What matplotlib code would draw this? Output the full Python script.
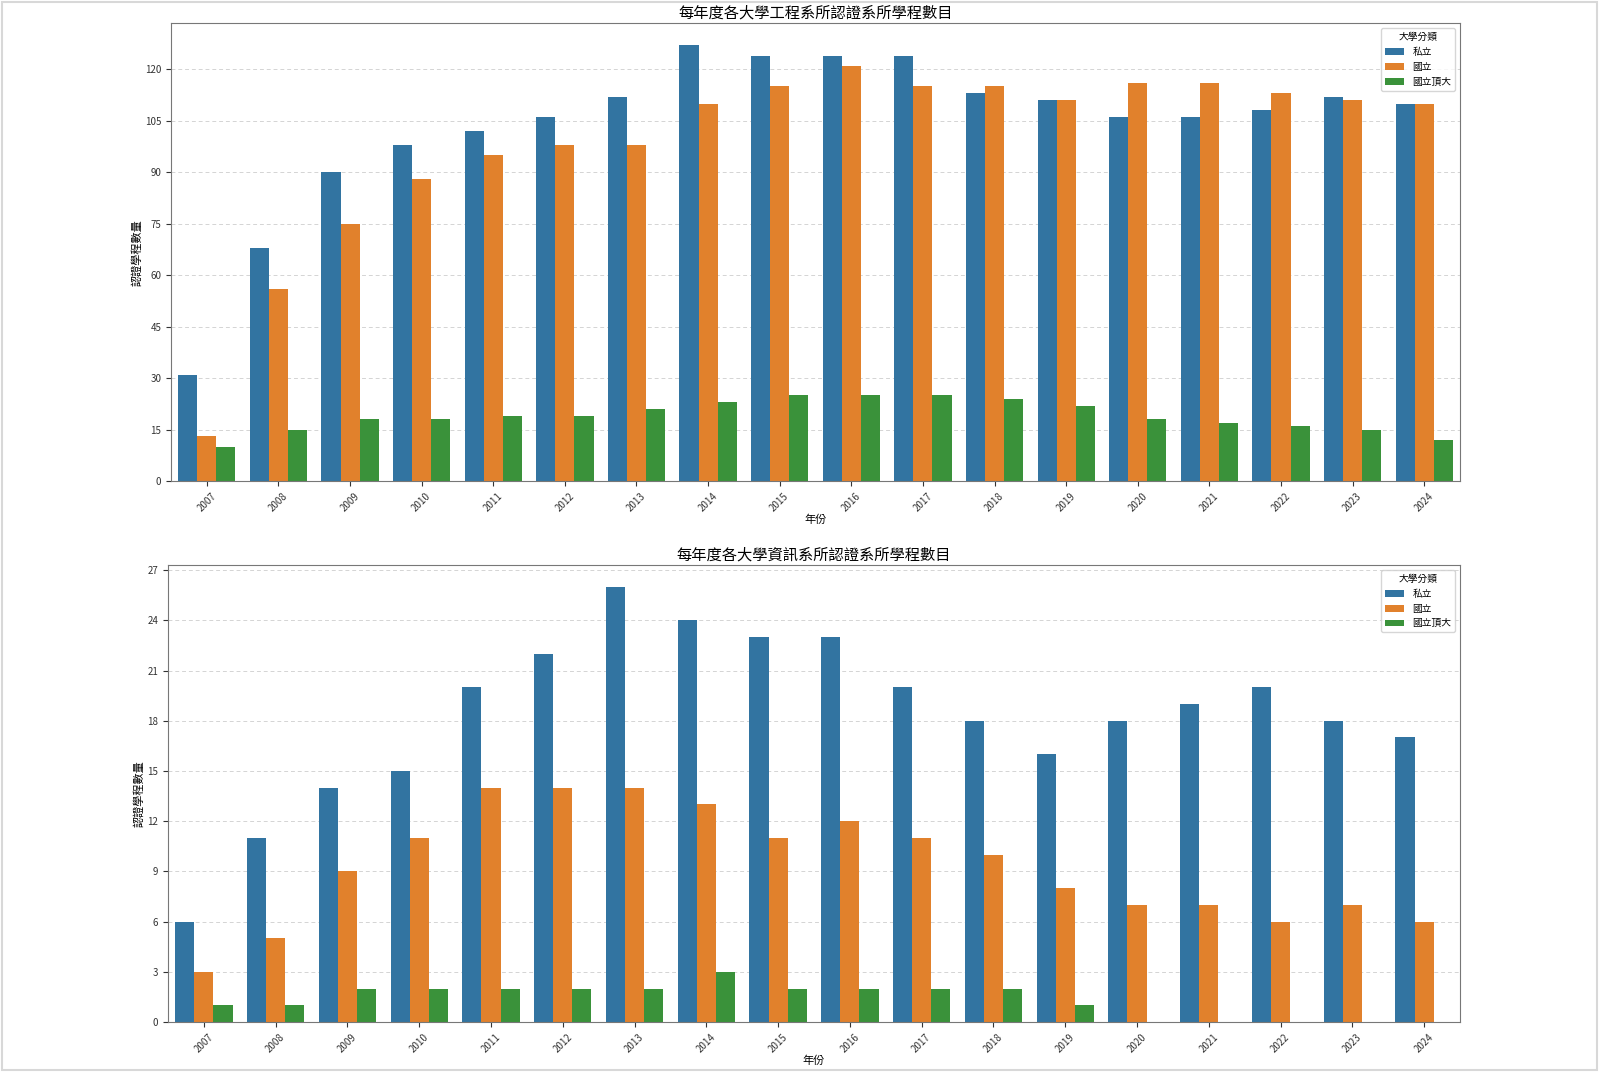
import pandas as pd
import matplotlib
matplotlib.use("Agg")
import matplotlib.pyplot as plt
from matplotlib.ticker import MultipleLocator
from matplotlib.patches import Rectangle
import seaborn as sns

plt.rcParams['font.family'] = ['Noto Sans CJK TC', 'DejaVu Sans']

years = list(range(2007, 2025))
groups = ["私立", "國立", "國立頂大"]

# 工程系所
eng_private = [31, 68, 90, 98, 102, 106, 112, 127, 124, 124, 124, 113, 111, 106, 106, 108, 112, 110]
eng_national = [13, 56, 75, 88, 95, 98, 98, 110, 115, 121, 115, 115, 111, 116, 116, 113, 111, 110]
eng_top = [10, 15, 18, 18, 19, 19, 21, 23, 25, 25, 25, 24, 22, 18, 17, 16, 15, 12]

# 資訊系所
cs_private = [6, 11, 14, 15, 20, 22, 26, 24, 23, 23, 20, 18, 16, 18, 19, 20, 18, 17]
cs_national = [3, 5, 9, 11, 14, 14, 14, 13, 11, 12, 11, 10, 8, 7, 7, 6, 7, 6]
cs_top = [1, 1, 2, 2, 2, 2, 2, 3, 2, 2, 2, 2, 1, 0, 0, 0, 0, 0]


def make_df(private, national, top):
    rows = []
    for i, y in enumerate(years):
        rows.append({"年份": y, "大學分類": groups[0], "數量": private[i]})
        rows.append({"年份": y, "大學分類": groups[1], "數量": national[i]})
        rows.append({"年份": y, "大學分類": groups[2], "數量": top[i]})
    return pd.DataFrame(rows)


def draw(ax, df, title, step):
    sns.barplot(data=df, x="年份", y="數量", hue="大學分類", hue_order=groups,
                ax=ax, errorbar=None)
    ax.set_title(title, fontsize=11, pad=4)
    ax.set_xlabel("年份", fontsize=8, labelpad=1)
    ax.set_ylabel("認證學程數量", fontsize=8, labelpad=2)
    ax.yaxis.set_major_locator(MultipleLocator(step))
    ax.tick_params(axis='x', labelrotation=45, labelsize=7, colors='#333333')
    ax.tick_params(axis='y', labelsize=7, colors='#333333')
    ax.grid(axis='y', linestyle=(0, (4, 3)), color='#d4d4d4', linewidth=0.7)
    ax.set_axisbelow(True)
    for s in ax.spines.values():
        s.set_color('#777777')
    ax.legend(title="大學分類", fontsize=7, title_fontsize=7, loc='upper right')


fig = plt.figure(figsize=(16, 10.72), dpi=100)
ax1 = fig.add_axes([0.1069, 0.5513, 0.8056, 0.4268])
ax2 = fig.add_axes([0.105, 0.0466, 0.8075, 0.4263])

draw(ax1, make_df(eng_private, eng_national, eng_top), "每年度各大學工程系所認證系所學程數目", 15)
draw(ax2, make_df(cs_private, cs_national, cs_top), "每年度各大學資訊系所認證系所學程數目", 3)

fig.patches.append(Rectangle((0.001, 0.002), 0.997, 0.996, transform=fig.transFigure,
                             fill=False, edgecolor='#d8d8d8', linewidth=1.5))

fig.savefig("out.png", dpi=100)
